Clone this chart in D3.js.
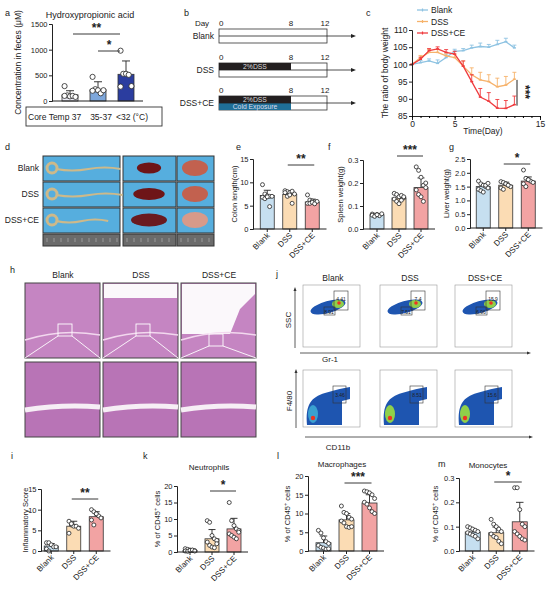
<!DOCTYPE html>
<html>
<head>
<meta charset="utf-8">
<script src="https://cdn.jsdelivr.net/npm/d3@7"></script>
<style>
  body { margin: 0; background: #fff; }
  text { font-family: "Liberation Sans", Arial, sans-serif; fill: #222; }
</style>
</head>
<body>
<script>
// ---- data ----
var groups = ["Blank", "DSS", "DSS+CE"];
var groupColors = ["#c6dff0", "#fbdcb4", "#f2a3a3"];

var haLabels = ["37", "35-37", "<32"];
var haColors = ["#ececf6", "#7ea7db", "#2b3d9f"];
var haMean = [120, 220, 520];
var haErr = [200, 375, 780];
var haPts = [[290, 110, 90, 100, 80, 100], [470, 230, 210, 150, 210, 200], [980, 530, 530, 510, 290, 280]];

var days = [0, 1, 2, 3, 4, 5, 6, 7, 8, 9, 10, 11, 12];
var wBlank = [100, 100.5, 101, 100.3, 102, 103.8, 104, 104.8, 105.2, 105, 105.8, 106.6, 104.8];
var wBlankErr = [0, 0.6, 0.6, 1, 1, 0.6, 0.6, 0.8, 1, 0.8, 1.2, 1, 0.8];
var wDSS = [100, 102, 103.5, 103.5, 102.5, 102, 99.5, 97, 95.5, 95, 93.5, 94, 95.7];
var wDSSErr = [0, 0.6, 0.8, 0.8, 0.8, 1, 1.5, 2, 2.2, 2, 2.5, 2.5, 2];
var wCE = [100, 101.5, 104, 104.5, 103.5, 103, 99.5, 95, 90.5, 89.3, 87.3, 87.2, 88.3];
var wCEErr = [0, 0.6, 0.6, 0.6, 0.8, 0.8, 1.5, 2, 2.5, 2.5, 2.5, 2.3, 2.5];

var dssDays = [0, 8];
var ceDays = [0, 8];

var colonMean = [7.2, 7.4, 5.8];
var colonErr = [8.3, 8.2, 6.4];
var colonPts = [[9.5, 7.5, 7.1, 7, 7, 6.8, 6.5, 6.9, 4.8], [8.2, 8, 7.8, 8.1, 7.5, 7.8, 7, 7.3, 5.5], [7.3, 6.2, 6, 5.8, 5.9, 5.5, 5.5, 5.7, 5.4]];
var spleenMean = [0.062, 0.135, 0.18];
var spleenErr = [0.067, 0.146, 0.222];
var spleenPts = [[0.065, 0.06, 0.063, 0.058, 0.066, 0.06, 0.055, 0.062], [0.155, 0.15, 0.14, 0.146, 0.135, 0.13, 0.12, 0.11, 0.125, 0.14], [0.27, 0.255, 0.225, 0.19, 0.18, 0.17, 0.15, 0.14, 0.12, 0.2]];
var liverMean = [1.5, 1.55, 1.7];
var liverErr = [1.6, 1.66, 1.85];
var liverPts = [[1.7, 1.6, 1.55, 1.5, 1.45, 1.4, 1.35, 1.3, 1.55, 1.62], [1.68, 1.65, 1.6, 1.55, 1.5, 1.45, 1.4, 1.6, 1.55], [2.1, 1.8, 1.75, 1.7, 1.65, 1.6, 1.5, 1.75]];

var inflMean = [1.2, 6, 8.3];
var inflErr = [1.8, 7.2, 9.5];
var inflPts = [[2, 2, 1.5, 1, 1, 0.5, 0], [7.2, 6.3, 6, 6, 5.5, 4.3, 6.6], [10, 9.5, 9, 8.5, 8, 7.5, 6.3, 9]];
var neuMean = [0.5, 4, 7];
var neuErr = [0.8, 6.8, 10.2];
var neuPts = [[1, 0.8, 0.6, 0.5, 0.4, 0.3, 0.2, 0.5, 0.6, 0.3], [9.5, 9, 5, 4, 3.5, 3, 2, 1.5, 1.3, 2.5], [15, 9.5, 8, 7, 6.5, 5.5, 5, 4.5, 4, 6]];
var macMean = [2.2, 8.3, 12.8];
var macErr = [4, 10, 15];
var macPts = [[5.5, 4.8, 3.5, 2.5, 2, 1.5, 1, 0.8, 0.5, 0.6], [12, 10.3, 10, 9, 8.5, 8, 7.5, 6.5, 6.3, 6.5], [16, 15.8, 15.5, 15, 14, 13, 12.5, 11.5, 10.5, 10]];
var monoMean = [0.078, 0.075, 0.12];
var monoErr = [0.09, 0.098, 0.2];
var monoPts = [[0.1, 0.095, 0.09, 0.085, 0.08, 0.075, 0.07, 0.065, 0.06, 0.05], [0.13, 0.11, 0.1, 0.09, 0.08, 0.07, 0.06, 0.055, 0.04, 0.03], [0.26, 0.26, 0.17, 0.11, 0.1, 0.08, 0.07, 0.06, 0.05, 0.045]];

var flowTop = [["4.41", "8.91"], ["7.4", "7.51"], ["15.9", "6.96"]];
var flowBottom = ["3.46", "8.51", "15.6"];

// ---- drawing ----
var svg = d3.select("body").append("svg").attr("width", 550).attr("height", 604);
var font = 7.5;

function panelLetter(t, x, y) {
  svg.append("text").attr("x", x).attr("y", y).attr("font-size", 9).text(t);
}

function yLabel(g, t, x, y, size) {
  return g.append("text").attr("transform", "translate(" + x + "," + y + ") rotate(-90)")
    .attr("text-anchor", "middle").attr("font-size", size || font).text(t);
}

function cd45Label(x, y) {
  var t = svg.append("text").attr("transform", "translate(" + x + "," + y + ") rotate(-90)")
    .attr("text-anchor", "middle").attr("font-size", 7.5);
  t.append("tspan").text("% of CD45");
  t.append("tspan").attr("dy", -3).attr("font-size", 5.5).text("+");
  t.append("tspan").attr("dy", 3).text(" cells");
}

function sig(x1, x2, y, stars) {
  svg.append("line").attr("x1", x1).attr("x2", x2).attr("y1", y).attr("y2", y)
    .attr("stroke", "#222").attr("stroke-width", 0.9);
  svg.append("text").attr("x", (x1 + x2) / 2).attr("y", y - 2).attr("text-anchor", "middle")
    .attr("font-size", 12).attr("font-weight", "bold").text(stars);
}

function barPanel(c) {
  var g = svg.append("g");
  var y = d3.scaleLinear().domain([0, c.max]).range([c.bottom, c.top]);
  var x = d3.scaleBand().domain(c.cats).range([c.ax + c.off, c.ax + c.off + 3 * c.step]).paddingInner(0).paddingOuter(0);
  var cx = function(d) { return x(d) + x.bandwidth() / 2; };
  var bw = c.bw;

  g.selectAll("rect.bar").data(c.cats).join("rect")
    .attr("x", function(d) { return cx(d) - bw / 2; })
    .attr("y", function(d, i) { return y(c.mean[i]); })
    .attr("width", bw)
    .attr("height", function(d, i) { return c.bottom - y(c.mean[i]); })
    .attr("fill", function(d, i) { return c.colors[i]; })
    .attr("stroke", "#333").attr("stroke-width", 0.8);

  // upper error bars
  g.selectAll("path.err").data(c.cats).join("path")
    .attr("d", function(d, i) {
      var xc = cx(d), y0 = y(c.mean[i]), y1 = y(c.err[i]);
      return "M" + xc + "," + y0 + "V" + y1 + "M" + (xc - bw * 0.25) + "," + y1 + "H" + (xc + bw * 0.25);
    })
    .attr("stroke", "#222").attr("stroke-width", 0.9).attr("fill", "none");

  // dots
  c.cats.forEach(function(d, i) {
    var pts = c.pts[i];
    g.selectAll(null).data(pts).join("circle")
      .attr("cx", function(v, j) { return cx(d) + ((j % 5) - 2) * bw * 0.17; })
      .attr("cy", function(v) { return y(v); })
      .attr("r", c.r || 2)
      .attr("fill", "#fff").attr("stroke", "#222").attr("stroke-width", 0.8);
  });

  // axes
  var yAxis = d3.axisLeft(y).tickValues(c.ticks).tickSize(3).tickPadding(1.5).tickFormat(c.fmt || d3.format("d"));
  var ya = g.append("g").attr("transform", "translate(" + c.ax + ",0)").call(yAxis);
  ya.selectAll("text").attr("font-size", font).attr("font-family", "Liberation Sans, Arial, sans-serif").attr("fill", "#222");
  ya.select(".domain").attr("stroke", "#222");
  ya.selectAll(".tick line").attr("stroke", "#222");
  var xEnd = c.ax + c.off + 3 * c.step + 3;
  g.append("line").attr("x1", c.ax).attr("x2", xEnd).attr("y1", c.bottom).attr("y2", c.bottom)
    .attr("stroke", "#222").attr("stroke-width", 1);
  if (c.rotLabels) {
    g.selectAll("line.xt").data(c.cats).join("line")
      .attr("x1", cx).attr("x2", cx).attr("y1", c.bottom).attr("y2", c.bottom + 3).attr("stroke", "#222");
    g.selectAll("text.xl").data(c.cats).join("text")
      .attr("transform", function(d) { return "translate(" + (cx(d) + 3) + "," + (c.bottom + 7) + ") rotate(-45)"; })
      .attr("text-anchor", "end").attr("font-size", 8).text(function(d) { return d; });
  }
  if (c.ylabel) yLabel(g, c.ylabel, c.ylx, (c.top + c.bottom) / 2, c.ylsize);
  if (c.title) g.append("text").attr("x", c.titleX).attr("y", c.titleY).attr("text-anchor", "middle").attr("font-size", c.titleSize || 8).text(c.title);
  if (c.sig) sig(cx(c.cats[1]) - 2, cx(c.cats[2]) + 2, c.sig[0], c.sig[1]);
  return { cx: cx, y: y };
}

// ---------- panel a ----------
panelLetter("a", 5, 16);
var pa = barPanel({
  cats: haLabels, mean: haMean, err: haErr, pts: haPts, colors: haColors,
  ax: 52, off: 4, step: 28, bw: 16, top: 24, bottom: 101, max: 1500,
  ticks: [0, 500, 1000, 1500], r: 2.6,
  ylabel: "Concentration in feces (μM)", ylx: 21, ylsize: 8.5,
  title: "Hydroxypropionic acid", titleX: 90, titleY: 18, titleSize: 9
});
sig(pa.cx(haLabels[0]) + 3, pa.cx(haLabels[2]) - 6, 34, "**");
sig(pa.cx(haLabels[1]), pa.cx(haLabels[2]) - 6, 51, "*");
svg.append("rect").attr("x", 26).attr("y", 107).attr("width", 136).attr("height", 19)
  .attr("fill", "none").attr("stroke", "#333").attr("stroke-width", 0.9);
svg.append("text").attr("x", 28).attr("y", 120).attr("font-size", 8.5).text("Core Temp " + haLabels[0]);
svg.append("text").attr("x", 101).attr("y", 120).attr("text-anchor", "middle").attr("font-size", 8.5).text(haLabels[1]);
svg.append("text").attr("x", 132).attr("y", 120).attr("text-anchor", "middle").attr("font-size", 8.5).text(haLabels[2] + " (°C)");

// ---------- panel b ----------
panelLetter("b", 184, 16);
var dx = d3.scaleLinear().domain([0, 12]).range([219, 327]);
var rowsB = [{ name: "Blank", y: 29, dss: false, ce: false }, { name: "DSS", y: 63, dss: true, ce: false }, { name: "DSS+CE", y: 96, dss: true, ce: true }];
svg.append("text").attr("x", 202).attr("y", 26).attr("font-size", 8).attr("text-anchor", "middle").text("Day");
rowsB.forEach(function(r) {
  [0, 8, 12].forEach(function(d) {
    svg.append("text").attr("x", dx(d) + (d === 12 ? -2 : 0)).attr("y", r.y - 3).attr("font-size", 8)
      .attr("text-anchor", d === 0 ? "start" : "middle").text(d);
  });
  svg.append("rect").attr("x", dx(0)).attr("y", r.y).attr("width", dx(12) - dx(0)).attr("height", 14)
    .attr("fill", "#fff").attr("stroke", "#333").attr("stroke-width", 0.8);
  if (r.dss) {
    svg.append("rect").attr("x", dx(dssDays[0])).attr("y", r.y).attr("width", dx(dssDays[1]) - dx(dssDays[0])).attr("height", 7).attr("fill", "#231f20");
    svg.append("text").attr("x", (dx(dssDays[0]) + dx(dssDays[1])) / 2).attr("y", r.y + 6.2).attr("text-anchor", "middle")
      .attr("font-size", 6.8).style("fill", "#ddd").text("2%DSS");
  }
  if (r.ce) {
    svg.append("rect").attr("x", dx(ceDays[0])).attr("y", r.y + 7).attr("width", dx(ceDays[1]) - dx(ceDays[0])).attr("height", 7).attr("fill", "#1f6f97");
    svg.append("text").attr("x", (dx(ceDays[0]) + dx(ceDays[1])) / 2).attr("y", r.y + 13.4).attr("text-anchor", "middle")
      .attr("font-size", 6.8).style("fill", "#dde").text("Cold Exposure");
  }
  svg.append("line").attr("x1", dx(0)).attr("x2", 352).attr("y1", r.y + 7).attr("y2", r.y + 7).attr("stroke", "#222").attr("stroke-width", 0.8);
  svg.append("path").attr("d", "M356," + (r.y + 7) + "l-5,-2v4z").attr("fill", "#222");
  svg.append("text").attr("x", 214).attr("y", r.y + 10).attr("text-anchor", "end").attr("font-size", 8.5).text(r.name);
});

// ---------- panel c ----------
panelLetter("c", 366, 16);
var cxs = d3.scaleLinear().domain([0, 15]).range([412, 540]);
var cys = d3.scaleLinear().domain([85, 110]).range([116, 30]);
var series = [
  { name: "Blank", v: wBlank, e: wBlankErr, col: "#8ec3e2" },
  { name: "DSS", v: wDSS, e: wDSSErr, col: "#f6b26b" },
  { name: "DSS+CE", v: wCE, e: wCEErr, col: "#ef3b3e" }
];
series.forEach(function(s, k) {
  var gs = svg.append("g");
  gs.selectAll("path.e").data(days).join("path")
    .attr("d", function(d, i) {
      var x = cxs(d), y0 = cys(s.v[i]), y1 = cys(s.v[i] + s.e[i]);
      return "M" + x + "," + y0 + "V" + y1 + "M" + (x - 2) + "," + y1 + "H" + (x + 2);
    }).attr("stroke", s.col).attr("stroke-width", 0.9).attr("fill", "none");
  gs.append("path").datum(days).attr("fill", "none").attr("stroke", s.col).attr("stroke-width", 1.3)
    .attr("d", d3.line().x(function(d) { return cxs(d); }).y(function(d, i) { return cys(s.v[i]); }));
  gs.selectAll("line.m").data(days).join("line")
    .attr("x1", function(d) { return cxs(d) - 1.5; }).attr("x2", function(d) { return cxs(d) + 1.5; })
    .attr("y1", function(d, i) { return cys(s.v[i]); }).attr("y2", function(d, i) { return cys(s.v[i]); })
    .attr("stroke", s.col).attr("stroke-width", 1.5);
  var ly = 10 + k * 11.5;
  svg.append("line").attr("x1", 417).attr("x2", 428).attr("y1", ly).attr("y2", ly).attr("stroke", s.col).attr("stroke-width", 1.3);
  svg.append("line").attr("x1", 422.5).attr("x2", 422.5).attr("y1", ly - 1.5).attr("y2", ly + 1.5).attr("stroke", s.col).attr("stroke-width", 1.2);
  svg.append("text").attr("x", 431).attr("y", ly + 3).attr("font-size", 8.5).text(s.name);
});
var cyA = svg.append("g").attr("transform", "translate(412,0)").call(d3.axisLeft(cys).tickValues([85, 90, 95, 100, 105, 110]).tickSize(3).tickPadding(1.5));
var cxA = svg.append("g").attr("transform", "translate(0,116)").call(d3.axisBottom(cxs).tickValues([0, 5, 15]).tickSize(4).tickPadding(1));
svg.append("g").attr("transform", "translate(0,116)").call(d3.axisBottom(cxs).tickValues(d3.range(0, 16)).tickSize(2).tickFormat(""))
  .select(".domain").remove();
[cyA, cxA].forEach(function(a) {
  a.selectAll("text").attr("font-size", 8.5).attr("font-family", "Liberation Sans, Arial, sans-serif").attr("fill", "#222");
  a.selectAll("path,line").attr("stroke", "#222");
});
svg.append("text").attr("x", 483).attr("y", 134).attr("text-anchor", "middle").attr("font-size", 8.5).text("Time(Day)");
yLabel(svg, "The ratio of body weight", 388, 73, 8.5);
svg.append("line").attr("x1", 517).attr("x2", 517).attr("y1", cys(95.5)).attr("y2", cys(88)).attr("stroke", "#222");
svg.append("text").attr("transform", "translate(521,92) rotate(90)").attr("text-anchor", "middle").attr("font-size", 12)
  .attr("font-weight", "bold").text("***");

// ---------- panel d (photos, drawn as simple placeholders) ----------
panelLetter("d", 5, 150);
var dRows = [156, 182, 208];
groups.forEach(function(gname, i) {
  var ry = dRows[i];
  svg.append("text").attr("x", 39).attr("y", ry + 15).attr("text-anchor", "end").attr("font-size", 8.5).text(gname);
  [[43, 77], [123, 53], [177, 37]].forEach(function(col) {
    svg.append("rect").attr("x", col[0]).attr("y", ry).attr("width", col[1]).attr("height", 25)
      .attr("fill", "#56aede").attr("stroke", "#333").attr("stroke-width", 1);
  });
  // colon scaled by mean colon length
  var colonLen = colonMean[i] * 9;
  svg.append("circle").attr("cx", 52).attr("cy", ry + 12).attr("r", 5).attr("fill", "none").attr("stroke", "#cdb98a").attr("stroke-width", 3);
  svg.append("path").attr("d", "M56," + (ry + 13) + "q" + colonLen / 4 + ",3 " + colonLen / 2 + ",0 t" + colonLen / 2 + ",0")
    .attr("fill", "none").attr("stroke", "#cdb98a").attr("stroke-width", 2.2);
  var sr = 9 + spleenMean[i] * 50;
  svg.append("ellipse").attr("cx", 149).attr("cy", ry + 12).attr("rx", sr).attr("ry", 5 + spleenMean[i] * 8).attr("fill", i === 2 ? "#6a1a1f" : "#6e1518");
  svg.append("ellipse").attr("cx", 195).attr("cy", ry + 12).attr("rx", 13).attr("ry", 8).attr("fill", i === 2 ? "#d79a8a" : "#c2614f");
});
[[43, 77], [123, 53], [177, 37]].forEach(function(col) {
  svg.append("rect").attr("x", col[0]).attr("y", 234).attr("width", col[1]).attr("height", 12)
    .attr("fill", "#6b6b6b").attr("stroke", "#333");
  d3.range(col[0] + 4, col[0] + col[1] - 2, 7).forEach(function(t) {
    svg.append("line").attr("x1", t).attr("x2", t).attr("y1", 238).attr("y2", 242).attr("stroke", "#bbb").attr("stroke-width", 0.6);
  });
});

// ---------- panels e, f, g ----------
panelLetter("e", 236, 150);
barPanel({ cats: groups, mean: colonMean, err: colonErr, pts: colonPts, colors: groupColors,
  ax: 253, off: 3, step: 22.5, bw: 14, top: 159, bottom: 229, max: 15, ticks: [0, 5, 10, 15],
  rotLabels: true, ylabel: "Colon length(cm)", ylx: 237, sig: [165, "**"] });
panelLetter("f", 328, 150);
barPanel({ cats: groups, mean: spleenMean, err: spleenErr, pts: spleenPts, colors: groupColors,
  ax: 363, off: 3, step: 22, bw: 14, top: 160, bottom: 229, max: 0.3, ticks: [0, 0.1, 0.2, 0.3],
  fmt: d3.format(".1f"), rotLabels: true, ylabel: "Spleen weight(g)", ylx: 343, sig: [156, "***"] });
panelLetter("g", 449, 150);
barPanel({ cats: groups, mean: liverMean, err: liverErr, pts: liverPts, colors: groupColors,
  ax: 470, off: 2, step: 22.5, bw: 14, top: 159, bottom: 228, max: 2.5, ticks: [0, 0.5, 1, 1.5, 2, 2.5],
  fmt: d3.format(".1f"), rotLabels: true, ylabel: "Liver weight(g)", ylx: 449, sig: [164, "*"] });

// ---------- panel h (histology placeholders) ----------
panelLetter("h", 10, 273);
var hx = [25, 103, 181];
groups.forEach(function(gname, i) {
  svg.append("text").attr("x", hx[i] + 38).attr("y", 278).attr("text-anchor", "middle").attr("font-size", 8.5).text(gname);
  svg.append("rect").attr("x", hx[i]).attr("y", 283).attr("width", 75).attr("height", 75).attr("fill", "#c585c2").attr("stroke", "#444");
  if (i === 1) svg.append("rect").attr("x", hx[i] + 1).attr("y", 284).attr("width", 73).attr("height", 14).attr("fill", "#fbf8fb");
  if (i === 2) svg.append("path").attr("d", "M" + (hx[i] + 1) + ",284h73v10l-15,15l-10,25h-48z").attr("fill", "#fbf8fb");
  svg.append("path").attr("d", "M" + hx[i] + ",340q37,-12 75,-5").attr("stroke", "#f2d8ee").attr("stroke-width", 1.5).attr("fill", "none");
  var bx = hx[i] + (i === 2 ? 28 : 33);
  var by = i === 2 ? 334 : 324;
  svg.append("rect").attr("x", bx).attr("y", by).attr("width", 14).attr("height", 12).attr("fill", "none").attr("stroke", "#fff").attr("stroke-width", 0.9);
  svg.append("path").attr("d", "M" + bx + "," + (by + 12) + "L" + hx[i] + ",358M" + (bx + 14) + "," + (by + 12) + "L" + (hx[i] + 75) + ",358")
    .attr("stroke", "#fff").attr("stroke-width", 0.9);
  svg.append("rect").attr("x", hx[i]).attr("y", 362).attr("width", 75).attr("height", 75).attr("fill", "#b874b6").attr("stroke", "#444");
  svg.append("path").attr("d", "M" + hx[i] + ",410q37,-6 75,-3").attr("stroke", "#f6eef5").attr("stroke-width", 5).attr("fill", "none");
});

// ---------- panel j (flow placeholders) ----------
panelLetter("j", 276, 277);
var jx = [303, 380, 455];
groups.forEach(function(gname, i) {
  svg.append("text").attr("x", jx[i] + 30).attr("y", 281).attr("text-anchor", "middle").attr("font-size", 8.5).text(gname);
  // top: SSC vs Gr-1
  svg.append("rect").attr("x", jx[i]).attr("y", 285).attr("width", 57).attr("height", 62).attr("fill", "#fff").attr("stroke", "#999").attr("stroke-width", 0.6);
  svg.append("ellipse").attr("cx", jx[i] + 25).attr("cy", 307).attr("rx", 18).attr("ry", 6).attr("transform", "rotate(-15," + (jx[i] + 25) + ",307)").attr("fill", "#1e55b0");
  svg.append("ellipse").attr("cx", jx[i] + 35).attr("cy", 304).attr("rx", 6).attr("ry", 4).attr("fill", "#8fd04a");
  svg.append("circle").attr("cx", jx[i] + 36).attr("cy", 303).attr("r", 1.8).attr("fill", "#e32");
  svg.append("rect").attr("x", jx[i] + 31).attr("y", 291).attr("width", 14).attr("height", 19).attr("fill", "none").attr("stroke", "#333").attr("stroke-width", 0.6);
  svg.append("rect").attr("x", jx[i] + 21).attr("y", 307).attr("width", 11).attr("height", 8).attr("fill", "none").attr("stroke", "#333").attr("stroke-width", 0.6);
  svg.append("text").attr("x", jx[i] + 38).attr("y", 301).attr("text-anchor", "middle").attr("font-size", 5).text(flowTop[i][0]);
  svg.append("text").attr("x", jx[i] + 26).attr("y", 314).attr("text-anchor", "middle").attr("font-size", 5).text(flowTop[i][1]);
  // bottom: F4/80 vs CD11b
  svg.append("rect").attr("x", jx[i]).attr("y", 370).attr("width", 57).attr("height", 57).attr("fill", "#fff").attr("stroke", "#999").attr("stroke-width", 0.6);
  svg.append("path").attr("d", "M" + (jx[i] + 4) + ",425c-2,-20 4,-28 18,-32c10,-3 18,-5 25,-6v12l-8,2v24h-35z").attr("fill", "#1e55b0");
  svg.append("ellipse").attr("cx", jx[i] + 10).attr("cy", 414).attr("rx", 5).attr("ry", 9).attr("fill", i === 0 ? "#3aa0d0" : "#8fd04a");
  svg.append("circle").attr("cx", jx[i] + 10).attr("cy", 418).attr("r", 2.2).attr("fill", "#e32");
  svg.append("rect").attr("x", jx[i] + 30).attr("y", 386).attr("width", 13).attr("height", 17).attr("fill", "none").attr("stroke", "#333").attr("stroke-width", 0.6);
  svg.append("text").attr("x", jx[i] + 37).attr("y", 397).attr("text-anchor", "middle").attr("font-size", 5).text(flowBottom[i]);
});
[[353, 300, 528], [437, 305, 530]].forEach(function(a) {
  svg.append("line").attr("x1", a[1]).attr("x2", a[2]).attr("y1", a[0]).attr("y2", a[0]).attr("stroke", "#333").attr("stroke-width", 0.8);
  svg.append("path").attr("d", "M" + (a[2] + 3) + "," + a[0] + "l-4,-1.5v3z").attr("fill", "#333");
});
[[295, 290, 348], [296, 372, 428]].forEach(function(a) {
  svg.append("line").attr("x1", a[0]).attr("x2", a[0]).attr("y1", a[2]).attr("y2", a[1]).attr("stroke", "#333").attr("stroke-width", 0.8);
  svg.append("path").attr("d", "M" + a[0] + "," + (a[1] - 3) + "l-1.5,4h3z").attr("fill", "#333");
});
yLabel(svg, "SSC", 291, 320, 8);
yLabel(svg, "F4/80", 292, 401, 8);
svg.append("text").attr("x", 330).attr("y", 362).attr("text-anchor", "middle").attr("font-size", 8).text("Gr-1");
svg.append("text").attr("x", 338).attr("y", 450).attr("text-anchor", "middle").attr("font-size", 8).text("CD11b");

// ---------- panels i, k, l, m ----------
panelLetter("i", 11, 459);
barPanel({ cats: groups, mean: inflMean, err: inflErr, pts: inflPts, colors: groupColors,
  ax: 41, off: -1, step: 22.5, bw: 14, top: 489, bottom: 551, max: 15, ticks: [0, 5, 10, 15],
  rotLabels: true, ylabel: "Inflammatory Score", ylx: 28, sig: [499, "**"] });
panelLetter("k", 143, 459);
barPanel({ cats: groups, mean: neuMean, err: neuErr, pts: neuPts, colors: groupColors,
  ax: 177, off: 2, step: 22, bw: 14, top: 486, bottom: 552, max: 20, ticks: [0, 5, 10, 15, 20],
  rotLabels: true, title: "Neutrophils", titleX: 209, titleY: 470, sig: [491, "*"] });
cd45Label(160, 519);
panelLetter("l", 277, 459);
barPanel({ cats: groups, mean: macMean, err: macErr, pts: macPts, colors: groupColors,
  ax: 308, off: 4, step: 23, bw: 15, top: 476, bottom: 551, max: 20, ticks: [0, 5, 10, 15, 20],
  rotLabels: true, title: "Macrophages", titleX: 342, titleY: 467, sig: [483, "***"] });
cd45Label(290, 514);
panelLetter("m", 438, 467);
barPanel({ cats: groups, mean: monoMean, err: monoErr, pts: monoPts, colors: groupColors,
  ax: 459, off: 2, step: 23.5, bw: 15, top: 478, bottom: 551, max: 0.3, ticks: [0, 0.1, 0.2, 0.3],
  fmt: d3.format(".1f"), rotLabels: true, title: "Monocytes", titleX: 488, titleY: 468, sig: [482, "*"] });
cd45Label(438, 514);
</script>
</body>
</html>
